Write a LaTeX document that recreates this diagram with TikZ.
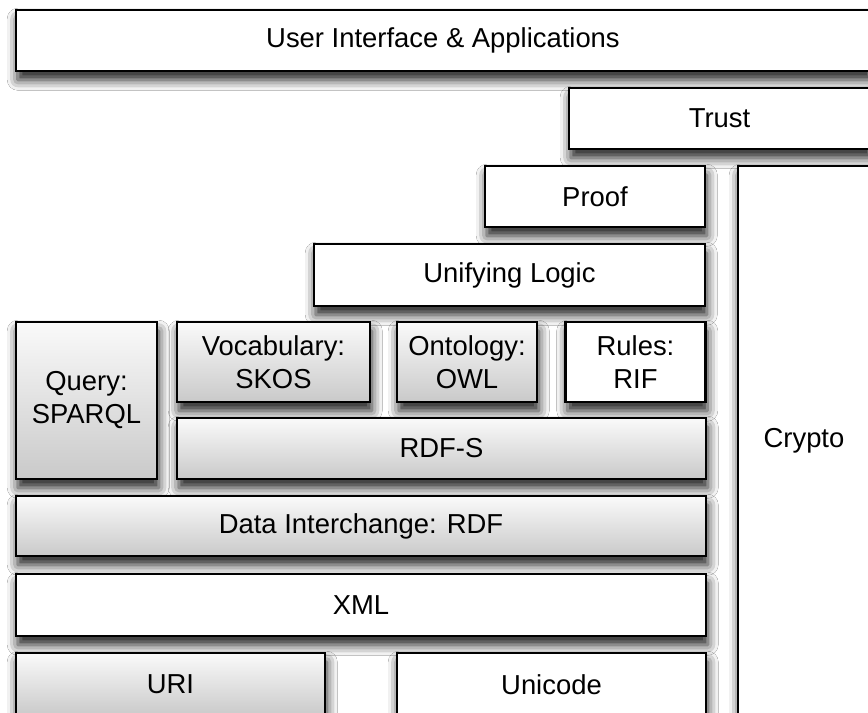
\documentclass[tikz,border=0pt]{standalone}
\usepackage{fontspec}
\setmainfont{Liberation Sans}
\usetikzlibrary{positioning, shadows.blur}

\begin{document}
\begin{tikzpicture}[
    camada/.style={draw=black, line width=0.75pt, fill=white, align=center,
                   inner sep=0pt, font=\fontsize{7.8}{9.4}\selectfont,
                   blur shadow={shadow xshift=0.5pt, shadow yshift=-2.5pt,
                                shadow blur radius=3pt, shadow opacity=90}},
    cinza/.style={camada, top color=gray!4, bottom color=gray!42}
  ]
    % Área da figura
    \useasboundingbox (0,0) rectangle (8.68,7.13);
    \fill[white] (0,0) rectangle (8.68,7.13);
    \clip (0,0) rectangle (8.68,7.13);
    % Camadas superiores
    \node[camada, minimum width=8.54cm, minimum height=0.61cm] (interface) at (4.43,6.725)
          {User Interface \& Applications};
    \node[camada, minimum width=3.01cm, minimum height=0.61cm] (trust) at (7.195,5.945) {Trust};
    \node[camada, minimum width=2.20cm, minimum height=0.61cm] (proof) at (5.95,5.165) {Proof};
    \node[camada, minimum width=1.32cm, minimum height=5.50cm] (crypto) at (8.04,2.72) {Crypto};
    \node[camada, minimum width=3.91cm, minimum height=0.62cm] (logic) at (5.095,4.38) {Unifying Logic};
    % Consulta, vocabulários e regras
    \node[cinza, minimum width=1.41cm, minimum height=1.57cm] (query) at (0.865,3.125)
          {Query:\\SPARQL};
    \node[cinza, minimum width=1.93cm, minimum height=0.80cm] (vocab) at (2.735,3.51)
          {Vocabulary:\\SKOS};
    \node[cinza, minimum width=1.40cm, minimum height=0.80cm] (owl) at (4.67,3.51)
          {Ontology:\\OWL};
    \node[camada, minimum width=1.40cm, minimum height=0.80cm] (rif) at (6.355,3.51)
          {Rules:\\RIF};
    \node[cinza, minimum width=5.29cm, minimum height=0.61cm] (rdfs) at (4.415,2.645) {RDF-S};
    % Camadas de base
    \node[cinza, minimum width=6.90cm, minimum height=0.60cm] (rdf) at (3.61,1.87)
          {Data Interchange: RDF};
    \node[camada, minimum width=6.90cm, minimum height=0.62cm] (xml) at (3.61,1.08) {XML};
    \node[cinza, minimum width=3.09cm, minimum height=0.63cm] (uri) at (1.705,0.285) {URI};
    \node[camada, minimum width=3.09cm, minimum height=0.63cm] (unicode) at (5.515,0.285) {Unicode};
  \end{tikzpicture}
\end{document}
